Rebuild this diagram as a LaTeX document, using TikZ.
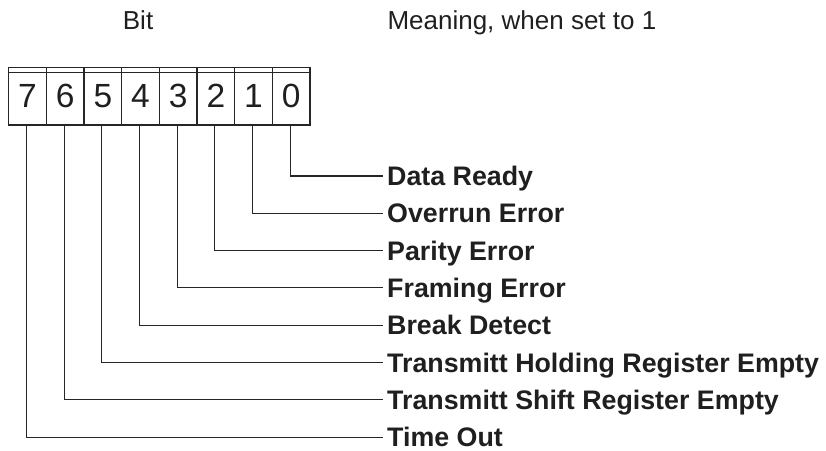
\documentclass[tikz,border=0pt]{standalone}
\usepackage{fontspec}
\setmainfont{Liberation Sans}
\begin{document}
\begin{tikzpicture}[x=1pt,y=-1pt,
  ink/.style={draw=black!85,line width=1.15pt},
  bitcell/.style={ink,minimum width=37.66pt,minimum height=57.5pt,inner sep=0pt,
    font=\fontsize{33.5}{38}\selectfont,text=black!88},
  flaglabel/.style={anchor=west,inner xsep=4.5pt,inner ysep=0pt,text height=19.1pt,
    text depth=0pt,font=\fontsize{26.8}{30}\selectfont\bfseries,text=black!88},
  heading/.style={anchor=base west,inner sep=0pt,font=\fontsize{26}{30}\selectfont,text=black!88}]
\useasboundingbox (0,0) rectangle (826,450);

% column headings
\node[heading] (hbit) at (122.7,29.3) {Bit};
\node[heading] (hmean) at (387.3,29.3) {Meaning, when set to 1};

% register cells, bit 7 on the left
\foreach \b [count=\i from 0] in {7,6,5,4,3,2,1,0}
  \node[bitcell] (b\b) at ({8.7+37.66*(\i+0.5)},96.25) {\b};
% strip on top of the register
\draw[ink] (b7.north west) -- ++(0,5.5) -| (b0.north east);

% flag names
\foreach \b/\txt [count=\i from 0] in {0/Data Ready,1/Overrun Error,2/Parity Error,
    3/Framing Error,4/Break Detect,5/Transmitt Holding Register Empty,
    6/Transmitt Shift Register Empty,7/Time Out}
  \node[flaglabel] (l\b) at (382.5,{176+37.3*\i}) {\txt};

% connectors from each bit to its meaning
\foreach \b in {0,...,7}
  \draw[ink] ([xshift=-1pt]b\b.south) |- (l\b.west);
\end{tikzpicture}
\end{document}
